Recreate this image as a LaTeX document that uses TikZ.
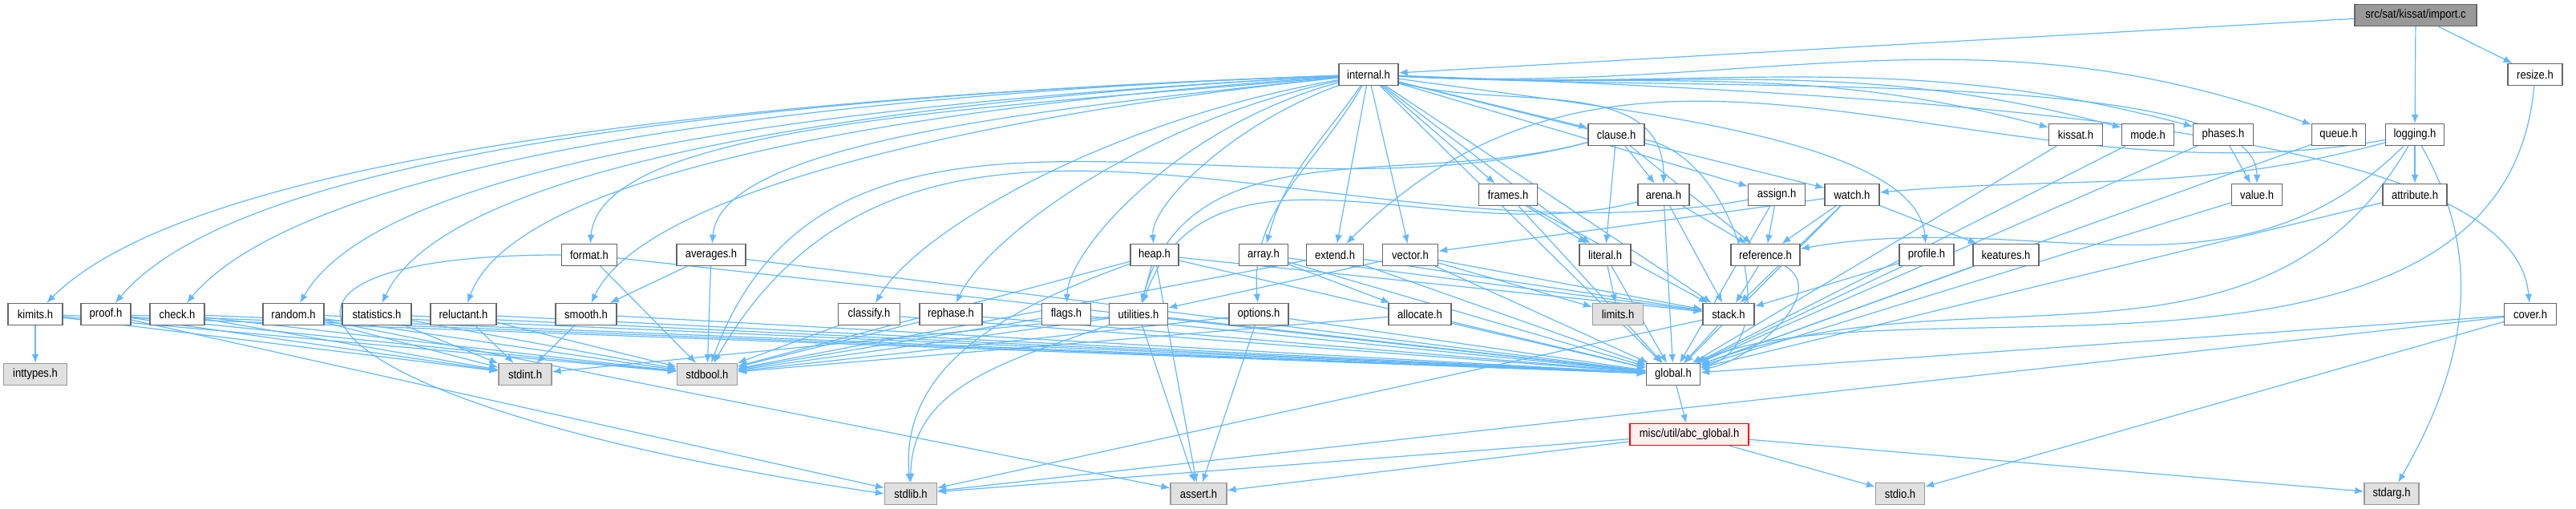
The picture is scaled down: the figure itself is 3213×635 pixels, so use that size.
\documentclass[tikz,border=0pt]{standalone}
\usepackage{fontspec}
\setmainfont{Liberation Sans}[FakeStretch=0.88]
\usetikzlibrary{arrows.meta, backgrounds}
\definecolor{edgeblue}{HTML}{63B8FF}
\definecolor{boxgray}{HTML}{666666}
\definecolor{sysgray}{HTML}{999999}
\definecolor{sysfill}{HTML}{E0E0E0}
\tikzset{>={Latex[length=5.5pt,width=4.4pt]}}
\tikzset{
  hdr/.style={draw=boxgray, fill=white, line width=0.6pt, minimum height=13.5pt,
    inner xsep=1pt, inner ysep=0pt, font=\fontsize{7.4}{8}\selectfont},
  sys/.style={hdr, draw=sysgray, fill=sysfill},
  root/.style={hdr, fill=sysgray},
  bad/.style={hdr, draw=red, fill=red!6},
  dep/.style={->, draw=edgeblue, line width=0.6pt},
  fan/.style={out looseness=1.2, in looseness=0.4}
}

\begin{document}
\begin{tikzpicture}[x=0.5pt, y=-0.5pt]
	\useasboundingbox (0,0) rectangle (3213,635);
	% top
	\node[root, minimum width=76pt] (import) at (3013,19) {src/sat/kissat/import.c};
	\node[hdr, minimum width=37pt] (internal) at (1707,93) {internal.h};
	\node[hdr, minimum width=34pt] (resize) at (3162,93) {resize.h};
	% row 2
	\node[hdr, minimum width=35pt] (clause) at (2016,168) {clause.h};
	\node[hdr, minimum width=33.5pt] (kissat) at (2589,168) {kissat.h};
	\node[hdr, minimum width=32.5pt] (mode) at (2679,168) {mode.h};
	\node[hdr, minimum width=37.5pt] (phases) at (2773,168) {phases.h};
	\node[hdr, minimum width=33.5pt] (queue) at (2917,168) {queue.h};
	\node[hdr, minimum width=36.5pt] (logging) at (3012,168) {logging.h};
	% row 3
	\node[hdr, minimum width=36.5pt] (frames) at (1881,243) {frames.h};
	\node[hdr, minimum width=32pt] (arena) at (2075,243) {arena.h};
	\node[hdr, minimum width=35.5pt] (assign) at (2216,243) {assign.h};
	\node[hdr, minimum width=34pt] (watch) at (2310,243) {watch.h};
	\node[hdr, minimum width=31.5pt] (value) at (2815,243) {value.h};
	\node[hdr, minimum width=40pt] (attribute) at (3012,243) {attribute.h};
	% row 4
	\node[hdr, minimum width=34.5pt] (format) at (735,318) {format.h};
	\node[hdr, minimum width=43pt] (averages) at (887,318) {averages.h};
	\node[hdr, minimum width=30pt] (heap) at (1440,318) {heap.h};
	\node[hdr, minimum width=30.5pt] (array) at (1576,318) {array.h};
	\node[hdr, minimum width=35.5pt] (extend) at (1665,318) {extend.h};
	\node[hdr, minimum width=34.5pt] (vector) at (1759,318) {vector.h};
	\node[hdr, minimum width=32pt] (literal) at (2002,318) {literal.h};
	\node[hdr, minimum width=43pt] (reference) at (2202,318) {reference.h};
	\node[hdr, minimum width=34pt] (profile) at (2403,318) {profile.h};
	\node[hdr, minimum width=41pt] (keatures) at (2502,318) {keatures.h};
	% row 5
	\node[hdr, minimum width=34pt] (kimits) at (44,392) {kimits.h};
	\node[hdr, minimum width=31pt] (proof) at (132,392) {proof.h};
	\node[hdr, minimum width=34pt] (check) at (221,392) {check.h};
	\node[hdr, minimum width=38pt] (random) at (366,392) {random.h};
	\node[hdr, minimum width=43pt] (statistics) at (470,392) {statistics.h};
	\node[hdr, minimum width=41pt] (reluctant) at (578,392) {reluctant.h};
	\node[hdr, minimum width=38pt] (smooth) at (731,392) {smooth.h};
	\node[hdr, minimum width=38.5pt] (classify) at (1084,392) {classify.h};
	\node[hdr, minimum width=39pt] (rephase) at (1186,392) {rephase.h};
	\node[hdr, minimum width=30.5pt] (flags) at (1330,392) {flags.h};
	\node[hdr, minimum width=36.5pt] (utilities) at (1420,392) {utilities.h};
	\node[hdr, minimum width=37pt] (options) at (1570,392) {options.h};
	\node[hdr, minimum width=39pt] (allocate) at (1771,392) {allocate.h};
	\node[sys, minimum width=31.5pt] (limits) at (2018,392) {limits.h};
	\node[hdr, minimum width=32pt] (stack) at (2156,392) {stack.h};
	\node[hdr, minimum width=32.5pt] (cover) at (3156,392) {cover.h};
	% row 6
	\node[sys, minimum width=39.5pt] (inttypes) at (44,467) {inttypes.h};
	\node[sys, minimum width=33pt] (stdint) at (655,467) {stdint.h};
	\node[sys, minimum width=37.5pt] (stdbool) at (882,467) {stdbool.h};
	\node[hdr, minimum width=33.5pt] (global) at (2087,467) {global.h};
	\node[bad, minimum width=74pt] (abcglobal) at (2107,542) {misc/util/abc\_global.h};
	% bottom
	\node[sys, minimum width=32.5pt] (stdlib) at (1136,616) {stdlib.h};
	\node[sys, minimum width=35pt] (assert) at (1495,616) {assert.h};
	\node[sys, minimum width=30.5pt] (stdio) at (2370,616) {stdio.h};
	\node[sys, minimum width=34pt] (stdarg) at (2983,616) {stdarg.h};

	\begin{scope}[on background layer]
	\draw[dep] (import) -- (internal); \draw[dep] (import) -- (logging); \draw[dep] (import) -- (resize);
	\draw[dep] (resize) to[out=-95,in=25,in looseness=0.6] (global);
	% internal.h, to the left
	\draw[dep, fan] (internal) to[out=182,in=45] (kimits);
	\draw[dep, fan] (internal) to[out=182,in=50] (proof);
	\draw[dep, fan] (internal) to[out=182,in=50] (check);
	\draw[dep, fan] (internal) to[out=183,in=60] (random);
	\draw[dep, fan] (internal) to[out=183,in=65] (statistics);
	\draw[dep, fan] (internal) to[out=184,in=70] (reluctant);
	\draw[dep, fan] (internal) to[out=185,in=85] (format);
	\draw[dep, fan] (internal) to[out=186,in=65] (smooth);
	\draw[dep, fan] (internal) to[out=186,in=85] (averages);
	\draw[dep, fan] (internal) to[out=190,in=60] (classify);
	\draw[dep, fan] (internal) to[out=192,in=65] (rephase);
	\draw[dep, fan] (internal) to[out=195,in=88] (flags);
	\draw[dep, fan] (internal) to[out=200,in=95] (heap);
	\draw[dep] (internal) to[out=235,in=75] (array);
	\draw[dep] (internal) to[out=240,in=95] (options);
	% internal.h, below
	\draw[dep] (internal) -- (extend); \draw[dep] (internal) -- (vector);
	\draw[dep] (internal) -- (frames); \draw[dep] (internal) -- (literal);
	\draw[dep] (internal) -- (clause); \draw[dep] (internal) to[out=-15,in=90] (arena);
	\draw[dep] (internal) -- (assign); \draw[dep] (internal) -- (watch);
	\draw[dep] (internal) -- (stack); \draw[dep] (internal) -- (global);
	% internal.h, to the right
	\draw[dep] (internal) to[out=-8,in=95,in looseness=0.5] (profile);
	\draw[dep] (internal) to[out=-3,in=165] (kissat);
	\draw[dep] (internal) to[out=-3,in=165] (mode);
	\draw[dep] (internal) to[out=-3,in=165] (phases);
	\draw[dep] (internal) to[out=-3,in=160] (queue);
	\draw[dep] (internal) to[out=-3,in=90,in looseness=0.35] (value);
	\draw[dep] (internal) to[out=-2,in=95,out looseness=1.5,in looseness=0.35] (cover);
	% logging.h
	\draw[dep] (logging) -- (attribute); \draw[dep] (logging) to[out=190,in=45] (extend);
	\draw[dep] (logging) to[out=225,in=10] (reference); \draw[dep] (logging) to[out=195,in=5] (watch);
	\draw[dep] (logging) to[out=-120,in=20] (global); \draw[dep] (logging) to[out=-60,in=60] (stdarg);
	% second level
	\draw[dep] (clause) -- (arena); \draw[dep] (clause) -- (literal); \draw[dep] (clause) -- (reference);
	\draw[dep] (clause) to[out=195,in=75] (utilities); \draw[dep] (clause) to[out=195,in=70] (stdbool);
	\draw[dep] (clause) to[out=-10,in=15] (global);
	\draw[dep] (frames) -- (literal); \draw[dep] (frames) -- (stack); \draw[dep] (frames) -- (global);
	\draw[dep] (arena) -- (reference); \draw[dep] (arena) -- (stack);
	\draw[dep] (arena) to[out=195,in=70] (utilities); \draw[dep] (arena) -- (global);
	\draw[dep] (assign) -- (reference); \draw[dep] (assign) to[out=190,in=60] (stdbool); \draw[dep] (assign) -- (global);
	\draw[dep] (watch) -- (reference); \draw[dep] (watch) -- (stack); \draw[dep] (watch) -- (vector);
	\draw[dep] (watch) -- (keatures); \draw[dep] (watch) -- (global);
	\draw[dep] (phases) -- (value); \draw[dep] (phases) -- (global);
	\draw[dep] (kissat) -- (global); \draw[dep] (mode) -- (global); \draw[dep] (queue) -- (global);
	\draw[dep] (value) -- (global); \draw[dep] (attribute) -- (global); \draw[dep] (keatures) -- (global);
	\draw[dep] (profile) -- (stack); \draw[dep] (profile) -- (global);
	% third level
	\draw[dep] (format) -- (stdbool); \draw[dep] (format) -- (global);
	\draw[dep] (format.west) .. controls (250,318) and (330,500) .. (stdlib.west);
	\draw[dep] (averages) -- (smooth); \draw[dep] (averages) -- (stdbool); \draw[dep] (averages) -- (global);
	\draw[dep] (heap) -- (stack); \draw[dep] (heap) -- (utilities); \draw[dep] (heap) -- (assert);
	\draw[dep] (heap) -- (stdbool); \draw[dep] (heap) to[out=200,in=95] (stdlib); \draw[dep] (heap) -- (global);
	\draw[dep] (array) -- (allocate); \draw[dep] (array) -- (stack); \draw[dep] (array) -- (global);
	\draw[dep] (extend) -- (stack); \draw[dep] (extend) -- (stdbool); \draw[dep] (extend) -- (global);
	\draw[dep] (vector) -- (stack); \draw[dep] (vector) -- (utilities); \draw[dep] (vector) -- (limits);
	\draw[dep] (vector) -- (global);
	\draw[dep] (literal) -- (limits); \draw[dep] (literal) -- (global);
	\draw[dep] (reference) -- (stack); \draw[dep] (reference) to[out=-30,in=10] (global);
	% fourth level
	\draw[dep] (kimits) -- (inttypes); \draw[dep] (kimits) -- (stdbool); \draw[dep] (kimits) -- (stdint); \draw[dep] (kimits) -- (global);
	\draw[dep] (proof) -- (stdbool); \draw[dep] (proof) -- (stdint); \draw[dep] (proof) -- (stdlib); \draw[dep] (proof) -- (global);
	\draw[dep] (check) -- (stdbool); \draw[dep] (check) -- (stdint); \draw[dep] (check) -- (global);
	\draw[dep] (random) -- (stdint); \draw[dep] (random) -- (stdbool); \draw[dep] (random) -- (assert); \draw[dep] (random) -- (global);
	\draw[dep] (statistics) -- (stdint); \draw[dep] (statistics) -- (stdbool); \draw[dep] (statistics) -- (global);
	\draw[dep] (reluctant) -- (stdint); \draw[dep] (reluctant) -- (stdbool); \draw[dep] (reluctant) -- (global);
	\draw[dep] (smooth) -- (stdint); \draw[dep] (smooth) -- (global);
	\draw[dep] (classify) -- (stdbool); \draw[dep] (classify) -- (global);
	\draw[dep] (rephase) -- (stdbool); \draw[dep] (rephase) -- (global);
	\draw[dep] (flags) -- (stdbool); \draw[dep] (flags) -- (global);
	\draw[dep] (utilities) -- (stdbool); \draw[dep] (utilities) -- (stdint); \draw[dep] (utilities) -- (assert);
	\draw[dep] (utilities) to[out=200,in=90] (stdlib); \draw[dep] (utilities) -- (global);
	\draw[dep] (options) -- (assert); \draw[dep] (options) -- (stdbool); \draw[dep] (options) -- (global);
	\draw[dep] (allocate) -- (stdbool); \draw[dep] (allocate) -- (global);
	\draw[dep] (stack) -- (global); \draw[dep] (stack) -- (stdlib);
	\draw[dep] (cover) -- (stdio); \draw[dep] (cover) -- (stdlib); \draw[dep] (cover) -- (global);
	% bottom
	\draw[dep] (global) -- (abcglobal);
	\draw[dep] (abcglobal) -- (stdio); \draw[dep] (abcglobal) -- (stdlib);
	\draw[dep] (abcglobal) -- (assert); \draw[dep] (abcglobal) -- (stdarg);
	\end{scope}
\end{tikzpicture}
\end{document}
